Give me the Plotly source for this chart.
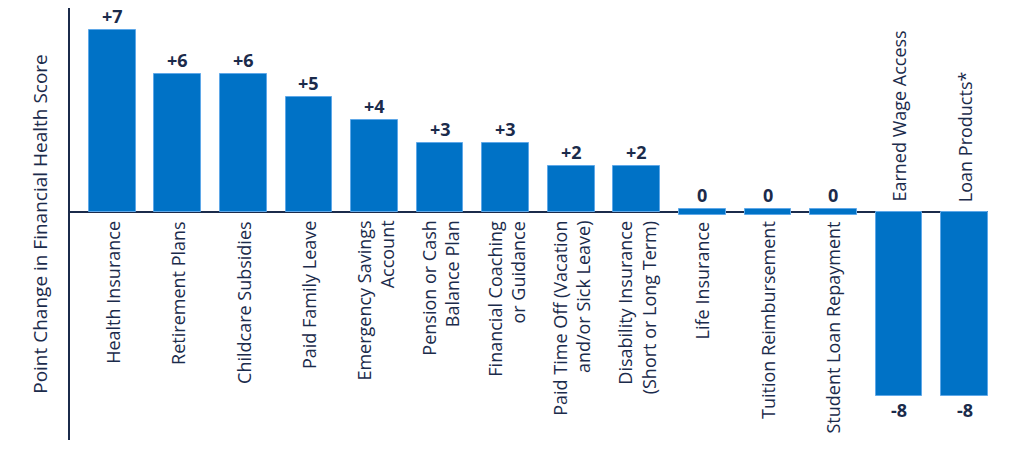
import plotly.graph_objects as go

categories = [
    "Health Insurance", "Retirement Plans", "Childcare Subsidies", "Paid Family Leave",
    "Emergency Savings<br>Account", "Pension or Cash<br>Balance Plan",
    "Financial Coaching<br>or Guidance", "Paid Time Off (Vacation<br>and/or Sick Leave)",
    "Disability Insurance<br>(Short or Long Term)", "Life Insurance",
    "Tuition Reimbursement", "Student Loan Repayment", "Earned Wage Access", "Loan Products*",
]
values = [7.9, 6, 6, 5, 4, 3, 3, 2, 2, 0, 0, 0, -8, -8]
value_labels = ["+7", "+6", "+6", "+5", "+4", "+3", "+3", "+2", "+2", "0", "0", "0", "-8", "-8"]

BAR = "#0072C6"
EDGE = "#5FA8E8"
NAVY = "#1B2B4B"
FONT = "Open Sans"
ZERO_H = 0.3  # visual thickness for zero-value bars

xs = list(range(len(categories)))
heights = [v if v != 0 else ZERO_H for v in values]
bases = [0 if v != 0 else -ZERO_H / 2 for v in values]

fig = go.Figure()
fig.add_trace(go.Bar(
    x=xs, y=heights, base=bases, width=0.713,
    marker=dict(color=BAR, line=dict(color=EDGE, width=1)),
    hoverinfo="skip",
))

annotations = []
for i, (c, v, lab) in enumerate(zip(categories, values, value_labels)):
    if v >= 0:
        annotations.append(dict(x=i, y=0, xref="x", yref="y", text=c, textangle=-90,
                                showarrow=False, xanchor="center", yanchor="top", yshift=-7,
                                align="right", font=dict(family=FONT, size=18, color=NAVY)))
    else:
        annotations.append(dict(x=i, y=0, xref="x", yref="y", text=c, textangle=-90,
                                showarrow=False, xanchor="center", yanchor="bottom", yshift=8,
                                align="left", font=dict(family=FONT, size=18, color=NAVY)))
    top = v if v != 0 else ZERO_H / 2
    annotations.append(dict(x=i, y=top, xref="x", yref="y", text="<b>%s</b>" % lab,
                            showarrow=False, xanchor="center",
                            yanchor="bottom" if v >= 0 else "top",
                            font=dict(family=FONT, size=18, color=NAVY)))

fig.update_layout(
    width=1024, height=452,
    margin=dict(l=70, r=36, t=8, b=12),
    paper_bgcolor="white", plot_bgcolor="white",
    showlegend=False, bargap=0,
    font=dict(family=FONT, color=NAVY),
    annotations=annotations,
    xaxis=dict(range=[-0.645, 13.357], showticklabels=False, showgrid=False,
               zeroline=False, showline=False, ticks=""),
    yaxis=dict(range=[-9.91, 8.87], showticklabels=False, showgrid=False,
               zeroline=True, zerolinecolor=NAVY, zerolinewidth=1.5,
               showline=True, linecolor=NAVY, linewidth=1.5, ticks="",
               title=dict(text="Point Change in Financial Health Score", standoff=16,
                          font=dict(family=FONT, size=19, color=NAVY))),
)

fig.write_html("out.html", config={"displayModeBar": False},
               post_script="document.body.style.margin='0';")
